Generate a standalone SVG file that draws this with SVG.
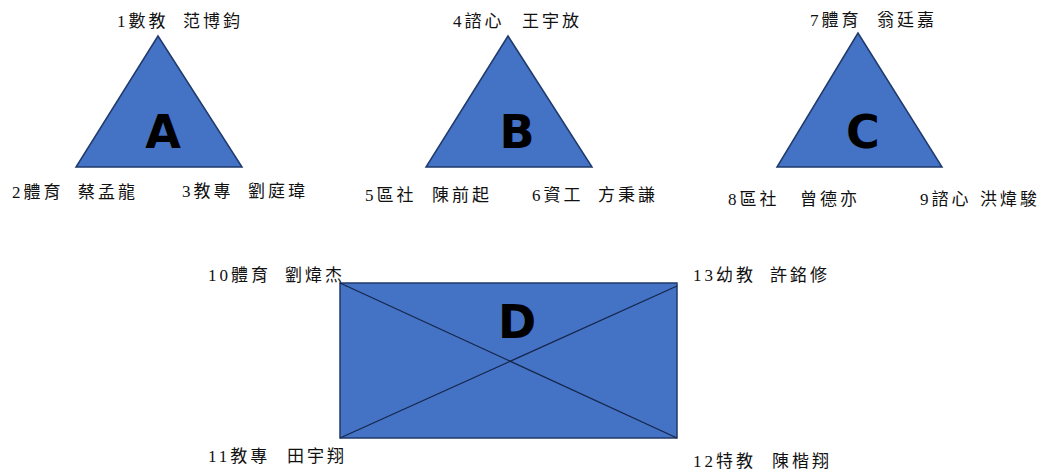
<svg xmlns="http://www.w3.org/2000/svg" width="1048" height="469" viewBox="0 0 1048 469">
<style>
.shape{fill:#4472C4;stroke:#1F3A6B;stroke-width:1.5}
.cross{stroke:#15264A;stroke-width:1.2;fill:none}
.big{font-family:"DejaVu Sans",sans-serif;font-weight:bold;font-size:46px;fill:#000;text-anchor:middle}
.lbl{font-family:"Liberation Serif","Noto Sans CJK TC",serif;font-size:17px;letter-spacing:3px;fill:#111}
</style>
<rect width="1048" height="469" fill="#fff"/>
<g id="nodeA">
<polygon class="shape" points="158,36 76,167 242,167"/>
<text class="big" x="163" y="148">A</text>
</g>
<g id="nodeB">
<polygon class="shape" points="508,36 426,167 592,167"/>
<text class="big" x="517" y="148">B</text>
</g>
<g id="nodeC">
<polygon class="shape" points="858,33 777,167 942,167"/>
<text class="big" x="863" y="148">C</text>
</g>
<g id="nodeD">
<rect class="shape" x="340" y="283" width="337" height="155"/>
<text class="big" x="517" y="338">D</text>
</g>
<g id="connectors">
<line class="cross" x1="340" y1="283" x2="677" y2="438"/>
<line class="cross" x1="340" y1="438" x2="677" y2="286"/>
</g>
<g id="labels">
<text class="lbl" y="27"><tspan x="117">1數教</tspan><tspan x="183">范博鈞</tspan></text>
<text class="lbl" y="198"><tspan x="12">2體育</tspan><tspan x="78">蔡孟龍</tspan></text>
<text class="lbl" y="197"><tspan x="182">3教專</tspan><tspan x="248">劉庭瑋</tspan></text>
<text class="lbl" y="27"><tspan x="453">4諮心</tspan><tspan x="522">王宇放</tspan></text>
<text class="lbl" y="201"><tspan x="365">5區社</tspan><tspan x="432">陳前起</tspan></text>
<text class="lbl" y="201"><tspan x="532">6資工</tspan><tspan x="598">方秉謙</tspan></text>
<text class="lbl" y="26"><tspan x="810">7體育</tspan><tspan x="877">翁廷嘉</tspan></text>
<text class="lbl" y="205"><tspan x="728">8區社</tspan><tspan x="800">曾德亦</tspan></text>
<text class="lbl" y="205"><tspan x="920">9諮心</tspan><tspan x="980">洪煒駿</tspan></text>
<text class="lbl" y="281"><tspan x="208">10體育</tspan><tspan x="285">劉煒杰</tspan></text>
<text class="lbl" y="462"><tspan x="208">11教專</tspan><tspan x="287">田宇翔</tspan></text>
<text class="lbl" y="281"><tspan x="693">13幼教</tspan><tspan x="770">許銘修</tspan></text>
<text class="lbl" y="467"><tspan x="693">12特教</tspan><tspan x="772">陳楷翔</tspan></text>
</g>
</svg>
